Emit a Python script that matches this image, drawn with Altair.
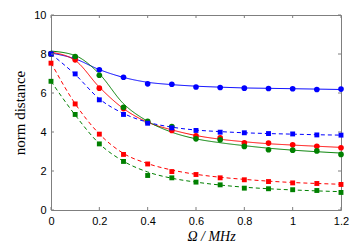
import altair as alt
import pandas as pd

omega = [0.0, 0.1, 0.2, 0.3, 0.4, 0.5, 0.6, 0.7, 0.8, 0.9, 1.0, 1.1, 1.2]

# fitted curves
fit_blue_solid = [8.05, 7.75, 7.2, 6.8, 6.55, 6.43, 6.35, 6.3, 6.26, 6.24, 6.22, 6.2, 6.18]
fit_red_solid = [8.09, 7.67, 6.3, 5.2, 4.5, 4.11, 3.82, 3.63, 3.5, 3.4, 3.33, 3.27, 3.21]
fit_green_solid = [8.15, 7.92, 6.98, 5.45, 4.55, 3.99, 3.65, 3.45, 3.3, 3.17, 3.07, 2.99, 2.92]
fit_blue_dashed = [8.0, 6.95, 5.7, 4.95, 4.5, 4.25, 4.1, 4.02, 3.96, 3.92, 3.89, 3.86, 3.84]
fit_red_dashed = [7.55, 5.45, 3.9, 2.9, 2.38, 2.05, 1.83, 1.68, 1.57, 1.48, 1.41, 1.36, 1.32]
fit_green_dashed = [6.6, 4.87, 3.4, 2.5, 1.95, 1.63, 1.43, 1.28, 1.17, 1.09, 1.03, 0.98, 0.94]

# measured points
blue_circles = [8.02, 7.82, 7.19, 6.81, 6.47, 6.45, 6.31, 6.28, 6.25, 6.23, 6.22, 6.18, 6.2]
red_circles = [8.0, 7.7, 6.25, 5.2, 4.5, 4.08, 3.8, 3.7, 3.44, 3.43, 3.34, 3.27, 3.19]
green_circles = [8.0, 7.87, 6.91, 5.27, 4.55, 4.28, 3.65, 3.6, 3.26, 3.09, 3.07, 3.03, 2.85]
blue_squares = [8.0, 6.98, 5.65, 4.9, 4.45, 4.21, 4.08, 3.99, 3.96, 3.92, 3.9, 3.85, 3.84]
red_squares = [7.53, 5.44, 3.89, 2.85, 2.36, 1.97, 1.82, 1.65, 1.55, 1.46, 1.39, 1.36, 1.31]
green_squares = [6.6, 4.9, 3.39, 2.49, 1.77, 1.65, 1.43, 1.29, 1.12, 1.09, 1.04, 1.0, 0.9]

x_ticks = [0, 0.2, 0.4, 0.6, 0.8, 1.0, 1.2]
y_ticks = [0, 2, 4, 6, 8, 10]

series = ["blue", "red", "green"]
colors = ["#0000ff", "#ff0000", "#008000"]

fits = [
    ("blue", "solid", fit_blue_solid), ("red", "solid", fit_red_solid), ("green", "solid", fit_green_solid),
    ("blue", "dashed", fit_blue_dashed), ("red", "dashed", fit_red_dashed), ("green", "dashed", fit_green_dashed),
]
fit_rows = []
for s, st, vals in fits:
    for o, v in zip(omega, vals):
        fit_rows.append({"omega": o, "val": v, "series": s, "style": st, "grp": s + st})
fit_df = pd.DataFrame(fit_rows)

circ_rows = []
for s, vals in zip(series, [blue_circles, red_circles, green_circles]):
    for o, v in zip(omega, vals):
        circ_rows.append({"omega": o, "val": v, "series": s})
circ_df = pd.DataFrame(circ_rows)

sq_rows = []
for s, vals in zip(series, [blue_squares, red_squares, green_squares]):
    for o, v in zip(omega, vals):
        sq_rows.append({"omega": o, "val": v, "series": s})
sq_df = pd.DataFrame(sq_rows)

xs = alt.Scale(domain=[0, 1.2], nice=False, zero=False)
ys = alt.Scale(domain=[0, 10], nice=False)
cs = alt.Scale(domain=series, range=colors)

x_axis = alt.Axis(
    values=x_ticks, format="~g", title="Ω / MHz", titleFont="Liberation Serif",
    titleFontStyle="italic", titleFontWeight="normal", titleFontSize=14,
    titlePadding=3, titleX=160, labelOverlap=False, labelFlush=False)
y_axis = alt.Axis(
    values=y_ticks, format="d", title="norm distance", titleFont="Liberation Serif",
    titleFontWeight="normal", titleFontSize=15, titlePadding=6,
    labelOverlap=False, labelFlush=False)

X = alt.X("omega:Q", scale=xs, axis=x_axis)
Y = alt.Y("val:Q", scale=ys, axis=y_axis)

lines = alt.Chart(fit_df).mark_line(interpolate="monotone", strokeWidth=1).encode(
    x=X, y=Y,
    color=alt.Color("series:N", scale=cs, legend=None),
    strokeDash=alt.StrokeDash("style:N", scale=alt.Scale(domain=["solid", "dashed"], range=[[1, 0], [4, 3]]), legend=None),
    detail="grp:N",
)

circles = alt.Chart(circ_df).mark_point(shape="circle", filled=True, size=32, opacity=1).encode(
    x=X, y=Y,
    color=alt.Color("series:N", scale=cs, legend=None),
)
squares = alt.Chart(sq_df).mark_square(size=24, opacity=1).encode(
    x=X, y=Y,
    color=alt.Color("series:N", scale=cs, legend=None),
)

xt_df = pd.DataFrame({"omega": x_ticks})
yt_df = pd.DataFrame({"val": y_ticks})
tick_color = "#7f7f7f"
xt_bottom = alt.Chart(xt_df).mark_rule(color=tick_color, strokeWidth=1).encode(
    x=X, y=alt.value(195), y2=alt.value(192))
xt_top = alt.Chart(xt_df).mark_rule(color=tick_color, strokeWidth=1).encode(
    x=X, y=alt.value(0), y2=alt.value(3))
yt_left = alt.Chart(yt_df).mark_rule(color=tick_color, strokeWidth=1).encode(
    y=Y, x=alt.value(0), x2=alt.value(3))
yt_right = alt.Chart(yt_df).mark_rule(color=tick_color, strokeWidth=1).encode(
    y=Y, x=alt.value(290), x2=alt.value(287))

chart = alt.layer(lines, circles, squares, xt_bottom, xt_top, yt_left, yt_right).properties(
    width=290, height=195,
    autosize=alt.AutoSizeParams(type="none"),
    padding={"left": 43, "top": 7, "right": 15, "bottom": 33},
).configure_view(
    stroke=tick_color, strokeWidth=1
).configure_axis(
    domain=False, ticks=False, grid=False,
    labelFont="Liberation Sans", labelFontSize=11, labelColor="#000000",
    labelPadding=5, titleColor="#000000", labelOverlap=False, labelFlush=False,
)

chart.save("out.html", embed_options={"renderer": "svg", "actions": False})
